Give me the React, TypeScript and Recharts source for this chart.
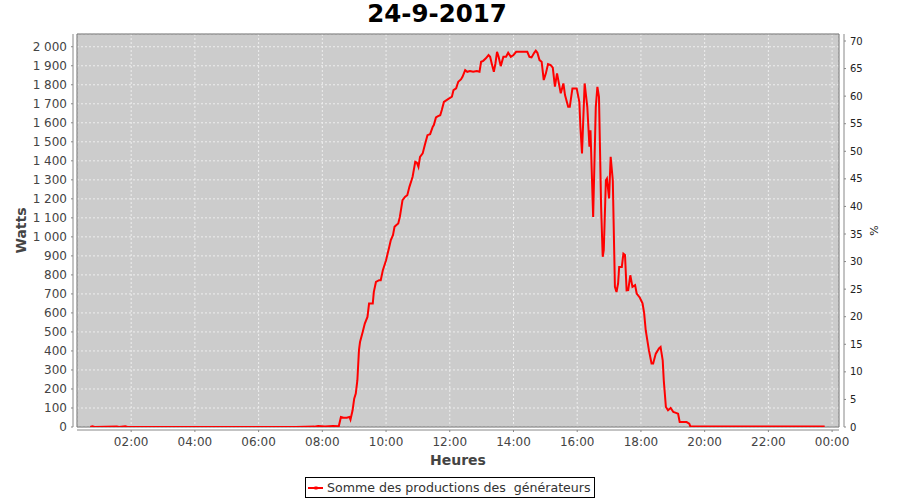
import React from "react";
import {
  LineChart,
  Line,
  XAxis,
  YAxis,
  CartesianGrid,
  ReferenceArea,
  Label
} from "recharts";

// time of reading (HH:MM) and summed production in watts
const times = [
  "00:43", "00:47", "00:51", "01:33", "01:37", "01:49", "01:53", "03:00", "04:30", "06:00",
  "07:10", "07:45", "07:52", "08:05", "08:20", "08:31", "08:35", "08:40", "08:46", "08:51",
  "08:53", "08:57", "09:00", "09:03", "09:06", "09:09", "09:11", "09:16", "09:20", "09:25",
  "09:28", "09:35", "09:37", "09:41", "09:47", "09:50", "09:54", "09:57", "10:00", "10:03",
  "10:06", "10:09", "10:13", "10:16", "10:19", "10:23", "10:26", "10:29", "10:31", "10:36",
  "10:40", "10:44", "10:48", "10:50", "10:55", "10:58", "11:01", "11:04", "11:09", "11:13",
  "11:18", "11:23", "11:28", "11:30", "11:34", "11:38", "11:42", "11:45", "11:49", "11:54",
  "11:59", "12:04", "12:07", "12:12", "12:16", "12:21", "12:24", "12:29", "12:33", "12:38",
  "12:44", "12:51", "12:56", "12:59", "13:03", "13:08", "13:13", "13:16", "13:19", "13:23",
  "13:26", "13:29", "13:32", "13:36", "13:41", "13:46", "13:50", "13:55", "14:00", "14:05",
  "14:12", "14:22", "14:26", "14:30", "14:34", "14:39", "14:42", "14:45", "14:49", "14:53",
  "14:57", "15:01", "15:05", "15:10", "15:14", "15:18", "15:22", "15:29", "15:34", "15:37",
  "15:43", "15:46", "15:51", "15:59", "16:04", "16:06", "16:09", "16:14", "16:19", "16:23",
  "16:25", "16:30", "16:35", "16:38", "16:41", "16:45", "16:48", "16:50", "16:54", "16:56",
  "17:00", "17:03", "17:07", "17:11", "17:14", "17:17", "17:19", "17:24", "17:27", "17:30",
  "17:33", "17:36", "17:40", "17:44", "17:49", "17:52", "17:58", "18:03", "18:06", "18:09",
  "18:15", "18:20", "18:23", "18:28", "18:34", "18:37", "18:41", "18:43", "18:47", "18:51",
  "18:56", "19:01", "19:06", "19:10", "19:13", "19:18", "19:26", "19:31", "19:33", "20:10",
  "21:00", "21:45", "22:30", "23:10", "23:46"
];

const watts = [
  0, 4, 0, 3, 0, 4, 0, 0, 0, 0,
  0, 2, 5, 3, 5, 4, 53, 49, 49, 53,
  39, 88, 149, 176, 246, 404, 447, 500, 544, 579,
  649, 649, 711, 763, 772, 772, 825, 851, 877, 912,
  947, 983, 1009, 1053, 1061, 1070, 1105, 1158, 1193, 1211,
  1219, 1263, 1298, 1316, 1395, 1390, 1368, 1421, 1439, 1483,
  1535, 1540, 1579, 1588, 1628, 1635, 1640, 1667, 1710, 1719,
  1728, 1737, 1772, 1781, 1816, 1828, 1842, 1877, 1868, 1872,
  1868, 1872, 1868, 1921, 1926, 1939, 1956, 1947, 1912, 1868,
  1912, 1973, 1947, 1898, 1947, 1947, 1968, 1947, 1956, 1973,
  1973, 1973, 1973, 1947, 1944, 1968, 1979, 1968, 1930, 1921,
  1825, 1860, 1909, 1903, 1890, 1790, 1860, 1755, 1807, 1746,
  1684, 1684, 1781, 1781, 1710, 1579, 1439, 1807, 1684, 1474,
  1561, 1105, 1684, 1789, 1737, 1158, 895, 930, 1298, 1307,
  1202, 1421, 1298, 737, 710, 755, 842, 842, 912, 905,
  719, 720, 798, 737, 746, 702, 680, 650, 600, 509,
  404, 334, 334, 386, 413, 421, 351, 246, 105, 88,
  100, 79, 74, 70, 26, 26, 26, 18, 3, 2,
  3, 2, 2, 2, 2
];

const hourTicks = [120, 240, 360, 480, 600, 720, 840, 960, 1080, 1200, 1320, 1440];
const wattTicks = [0, 100, 200, 300, 400, 500, 600, 700, 800, 900, 1000, 1100, 1200, 1300, 1400, 1500, 1600, 1700, 1800, 1900, 2000];
const pctTicks = [0, 5, 10, 15, 20, 25, 30, 35, 40, 45, 50, 55, 60, 65, 70];

const toMin = (t: string) => {
  const [h, m] = t.split(":").map(Number);
  return h * 60 + m;
};

const data = times.map((t, i) => ({ t: toMin(t), w: watts[i] }));

const fmtHour = (v: number) => {
  const h = Math.floor(v / 60) % 24;
  return (h < 10 ? "0" : "") + h + ":00";
};
const fmtWatts = (v: number) =>
  v >= 1000 ? Math.floor(v / 1000) + " " + String(v % 1000).padStart(3, "0") : String(v);

const FONT = '"DejaVu Sans", sans-serif';
const AXIS = "#888888";

export default function App() {
  return (
    <div
      style={{
        position: "absolute",
        left: 0,
        top: 0,
        width: 900,
        height: 500,
        background: "#fff",
        fontFamily: FONT
      }}
    >
      <div
        style={{
          position: "absolute",
          left: 0,
          top: 2,
          width: 874,
          textAlign: "center",
          fontSize: 24.5,
          lineHeight: "24px",
          fontWeight: "bold",
          color: "#000"
        }}
      >
        24-9-2017
      </div>
      <LineChart width={900} height={500} data={data} margin={{ top: 34, right: 0, bottom: 0, left: 0 }}>
        <CartesianGrid
          yAxisId="left"
          stroke="#eeeeee"
          strokeDasharray="2 2"
          fill="#cccccc"
          fillOpacity={1}
        />
        <XAxis
          dataKey="t"
          type="number"
          domain={[18, 1453]}
          ticks={hourTicks}
          interval={0}
          tickFormatter={fmtHour}
          height={73}
          tickSize={2}
          tickMargin={8}
          axisLine={{ stroke: AXIS, transform: "translate(0,3)" }}
          tickLine={{ stroke: AXIS, transform: "translate(0,3)" }}
          tick={{ fill: "#444444", fontSize: 12, fontFamily: FONT }}
          allowDataOverflow
        >
          <Label
            content={({ viewBox }: any) => (
              <text
                x={viewBox.x + viewBox.width / 2}
                y={viewBox.y + 38}
                textAnchor="middle"
                fontFamily={FONT}
                fontSize={14}
                fontWeight="bold"
                fill="#444444"
              >
                Heures
              </text>
            )}
          />
        </XAxis>
        <YAxis
          yAxisId="left"
          orientation="left"
          width={77}
          domain={[0, 2067]}
          ticks={wattTicks}
          interval={0}
          tickFormatter={fmtWatts}
          tickSize={2}
          tickMargin={8}
          axisLine={{ stroke: AXIS, transform: "translate(-4,0)" }}
          tickLine={{ stroke: AXIS, transform: "translate(-4,0)" }}
          tick={{ fill: "#444444", fontSize: 12, fontFamily: FONT }}
          allowDataOverflow
        >
          <Label
            content={({ viewBox }: any) => {
              const cx = 26;
              const cy = viewBox.y + viewBox.height / 2;
              return (
                <text
                  x={cx}
                  y={cy}
                  transform={`rotate(-90 ${cx} ${cy})`}
                  textAnchor="middle"
                  fontFamily={FONT}
                  fontSize={14}
                  fontWeight="bold"
                  fill="#444444"
                >
                  Watts
                </text>
              );
            }}
          />
        </YAxis>
        <YAxis
          yAxisId="right"
          orientation="right"
          width={61}
          domain={[0, 71.27]}
          ticks={pctTicks}
          interval={0}
          tickSize={2}
          tickMargin={9}
          axisLine={{ stroke: AXIS, transform: "translate(5,0)" }}
          tickLine={{ stroke: AXIS, transform: "translate(5,0)" }}
          tick={{ fill: "#222222", fontSize: 10, fontFamily: FONT }}
          allowDataOverflow
        >
          <Label
            content={({ viewBox }: any) => {
              const cx = 878;
              const cy = viewBox.y + viewBox.height / 2;
              return (
                <text
                  x={cx}
                  y={cy}
                  transform={`rotate(-90 ${cx} ${cy})`}
                  textAnchor="middle"
                  fontFamily={FONT}
                  fontSize={11}
                  fill="#222222"
                >
                  %
                </text>
              );
            }}
          />
        </YAxis>
        <ReferenceArea
          yAxisId="left"
          x1={18}
          x2={1453}
          y1={0}
          y2={2067}
          fill="none"
          stroke="#707070"
          strokeWidth={1}
          ifOverflow="visible"
        />
        <Line
          yAxisId="left"
          type="linear"
          dataKey="w"
          stroke="#ff0000"
          strokeWidth={2}
          dot={false}
          isAnimationActive={false}
        />
      </LineChart>
      <div
        style={{
          position: "absolute",
          left: 305,
          top: 477,
          width: 290,
          height: 21,
          boxSizing: "border-box",
          border: "1px solid #000",
          background: "#fff",
          display: "flex",
          alignItems: "center"
        }}
      >
        <svg width={20} height={19} style={{ flex: "none" }}>
          <line x1={2} y1={10} x2={17} y2={10} stroke="#ff0000" strokeWidth={2} />
          <rect x={8.5} y={8.5} width={3} height={3} fill="#ff0000" />
        </svg>
        <span
          style={{
            fontSize: 12.6,
            color: "#333333",
            whiteSpace: "pre",
            marginLeft: 1
          }}
        >
          Somme des productions des  générateurs
        </span>
      </div>
    </div>
  );
}
